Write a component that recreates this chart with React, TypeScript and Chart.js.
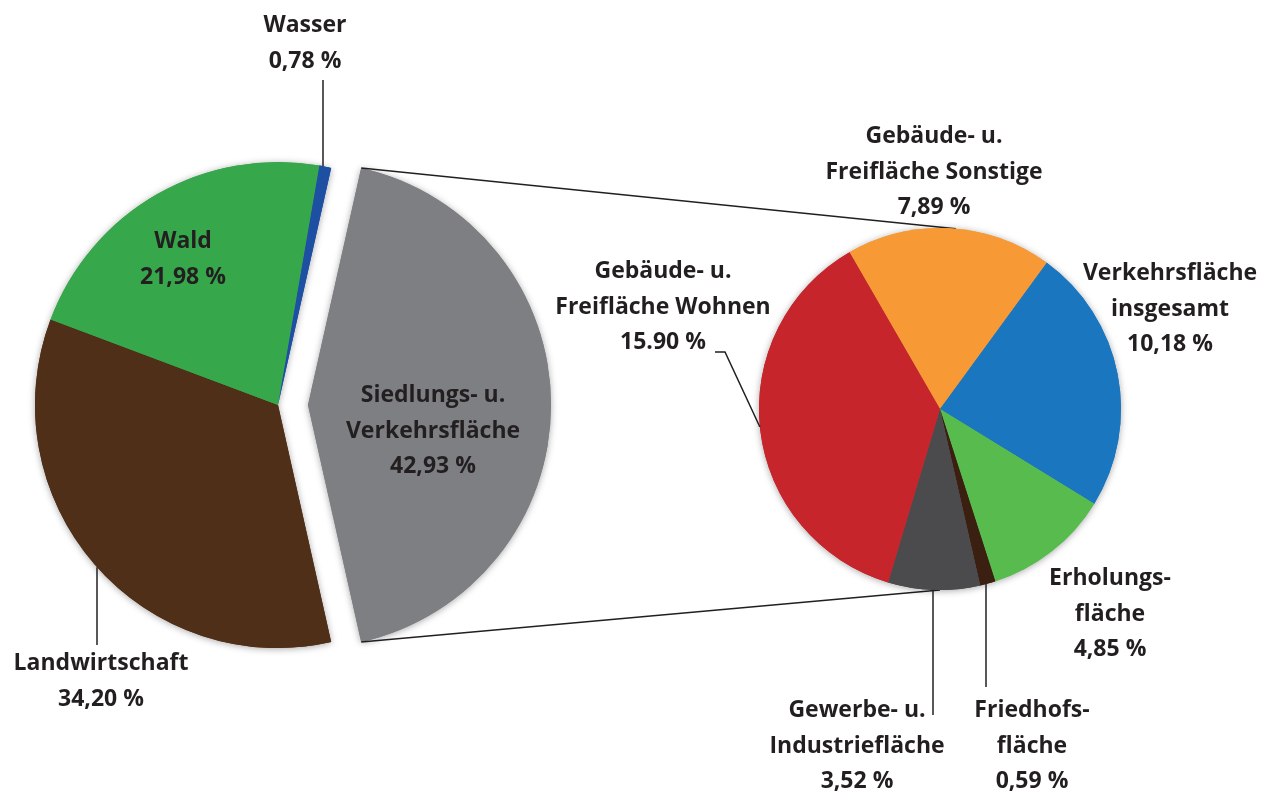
import React, { useEffect, useRef } from "react";
import { Chart, registerables } from "chart.js";
Chart.register(...registerables);

// ---- data ----
const mainCategories = ["Siedlungs- u. Verkehrsfläche", "Landwirtschaft", "Wald", "Wasser"];
const mainValues = [42.93, 34.2, 21.98, 0.78];
const mainValueTexts = ["42,93 %", "34,20 %", "21,98 %", "0,78 %"];
const mainLabelLines = [["Siedlungs- u.", "Verkehrsfläche"], ["Landwirtschaft"], ["Wald"], ["Wasser"]];
const mainColors = ["#7e7f83", "#4f2f18", "#36a84b", "#1d4fa2"];

const subCategories = [
  "Gebäude- u. Freifläche Sonstige",
  "Verkehrsfläche insgesamt",
  "Erholungsfläche",
  "Friedhofsfläche",
  "Gewerbe- u. Industriefläche",
  "Gebäude- u. Freifläche Wohnen",
];
const subValues = [7.89, 10.18, 4.85, 0.59, 3.52, 15.9];
const subValueTexts = ["7,89 %", "10,18 %", "4,85 %", "0,59 %", "3,52 %", "15.90 %"];
const subLabelLines = [
  ["Gebäude- u.", "Freifläche Sonstige"],
  ["Verkehrsfläche", "insgesamt"],
  ["Erholungs-", "fläche"],
  ["Friedhofs-", "fläche"],
  ["Gewerbe- u.", "Industriefläche"],
  ["Gebäude- u.", "Freifläche Wohnen"],
];
const subColors = ["#f79a36", "#1b76c0", "#57bb4e", "#3b2012", "#4b4b4d", "#c5252b"];

// ---- layout / style ----
const W = 1280;
const H = 797;
const FONT = 'bold 23px "Open Sans", Roboto, sans-serif';
const TEXT = "#231f20";
const LH = 35.5;
const EXPLODE = 30;
const mainLabelPos = [[433, 402], [101, 670], [183, 248], [305, 32]];
const subLabelPos = [[934, 143], [1170, 280], [1110, 585], [1032, 717], [857, 717], [663, 278]];

function drawText(ctx: CanvasRenderingContext2D, lines: string[], x: number, y: number) {
  ctx.save();
  ctx.font = FONT;
  ctx.fillStyle = TEXT;
  ctx.textAlign = "center";
  ctx.textBaseline = "alphabetic";
  lines.forEach((l, i) => ctx.fillText(l, x, y + i * LH));
  ctx.restore();
}

function line(ctx: CanvasRenderingContext2D, pts: number[][]) {
  ctx.save();
  ctx.strokeStyle = TEXT;
  ctx.lineWidth = 1.5;
  ctx.beginPath();
  pts.forEach((p, i) => (i === 0 ? ctx.moveTo(p[0], p[1]) : ctx.lineTo(p[0], p[1])));
  ctx.stroke();
  ctx.restore();
}

function explodeFor(arc: any, i: number, explodeIndex: number) {
  if (i !== explodeIndex) return [0, 0];
  const mid = (arc.startAngle + arc.endAngle) / 2;
  return [Math.cos(mid) * EXPLODE, Math.sin(mid) * EXPLODE];
}

function arcDrawPlugin(explodeIndex: number) {
  return {
    id: "arcDraw",
    beforeDatasetsDraw(chart: any) {
      const ctx = chart.ctx;
      const meta = chart.getDatasetMeta(0);
      // shadow pass
      ctx.save();
      ctx.shadowColor = "rgba(0,0,0,0.35)";
      ctx.shadowBlur = 7;
      ctx.shadowOffsetY = 1;
      meta.data.forEach((arc: any, i: number) => {
        const [dx, dy] = explodeFor(arc, i, explodeIndex);
        ctx.save();
        ctx.translate(dx, dy);
        arc.draw(ctx);
        ctx.restore();
      });
      ctx.restore();
      // main pass
      meta.data.forEach((arc: any, i: number) => {
        const [dx, dy] = explodeFor(arc, i, explodeIndex);
        ctx.save();
        ctx.translate(dx, dy);
        arc.draw(ctx);
        ctx.restore();
      });
      return false;
    },
  };
}

function yOnCircle(arc: any, x: number, sign: number) {
  const r = arc.outerRadius;
  return arc.y + sign * Math.sqrt(Math.max(r * r - (x - arc.x) ** 2, 0));
}
function xOnCircle(arc: any, y: number, sign: number) {
  const r = arc.outerRadius;
  return arc.x + sign * Math.sqrt(Math.max(r * r - (y - arc.y) ** 2, 0));
}

export default function App() {
  const leftRef = useRef<HTMLCanvasElement>(null);
  const rightRef = useRef<HTMLCanvasElement>(null);

  useEffect(() => {
    const subLabelsPlugin = {
      id: "subLabels",
      afterDraw(chart: any) {
        const ctx = chart.ctx;
        const arcs = chart.getDatasetMeta(0).data;
        const a = arcs[0];
        subLabelLines.forEach((lines, i) => {
          drawText(ctx, [...lines, subValueTexts[i]], subLabelPos[i][0], subLabelPos[i][1]);
        });
        // Friedhof leader
        line(ctx, [[986, 687], [986, yOnCircle(a, 986, 1)]]);
        // Gewerbe leader
        line(ctx, [[933, 715], [933, yOnCircle(a, 933, 1)]]);
        // Wohnen leader
        line(ctx, [[715, 352], [725, 352], [xOnCircle(a, 427, -1), 427]]);
      },
    };

    const right = new Chart(rightRef.current!, {
      type: "pie",
      data: {
        labels: subCategories,
        datasets: [{ data: subValues, backgroundColor: subColors, borderWidth: 0 }],
      },
      options: {
        responsive: false,
        animation: false,
        events: [],
        rotation: -30,
        radius: 181,
        layout: { padding: { left: 600, right: 0, top: 21, bottom: 0 } },
        plugins: { legend: { display: false }, tooltip: { enabled: false } },
      },
      plugins: [arcDrawPlugin(-1), subLabelsPlugin],
    });

    const total = mainValues.reduce((s, v) => s + v, 0);
    const rot = 90 - (mainValues[0] / total) * 180;

    const mainLabelsPlugin = {
      id: "mainLabels",
      afterDraw(chart: any) {
        const ctx = chart.ctx;
        const arcs = chart.getDatasetMeta(0).data;
        mainLabelLines.forEach((lines, i) => {
          drawText(ctx, [...lines, mainValueTexts[i]], mainLabelPos[i][0], mainLabelPos[i][1]);
        });
        const a = arcs[1];
        // Landwirtschaft leader
        line(ctx, [[97, 645], [97, yOnCircle(a, 97, 1)]]);
        // Wasser leader
        line(ctx, [[323, 80], [323, yOnCircle(a, 323, -1)]]);
        // connectors from exploded slice to second pie
        const s = arcs[0];
        const [dx, dy] = explodeFor(s, 0, 0);
        const cx = s.x + dx;
        const cy = s.y + dy;
        const R = s.outerRadius;
        const p1 = [cx + Math.cos(s.startAngle) * R, cy + Math.sin(s.startAngle) * R];
        const p2 = [cx + Math.cos(s.endAngle) * R, cy + Math.sin(s.endAngle) * R];
        const ra = right.getDatasetMeta(0).data[0] as any;
        const rr = ra.outerRadius;
        const tA = (-90 + 5) * (Math.PI / 180);
        const bA = 90 * (Math.PI / 180);
        line(ctx, [p1, [ra.x + Math.cos(tA) * rr, ra.y + Math.sin(tA) * rr]]);
        line(ctx, [p2, [ra.x + Math.cos(bA) * rr, ra.y + Math.sin(bA) * rr]]);
      },
    };

    const left = new Chart(leftRef.current!, {
      type: "pie",
      data: {
        labels: mainCategories,
        datasets: [{ data: mainValues, backgroundColor: mainColors, borderWidth: 0 }],
      },
      options: {
        responsive: false,
        animation: false,
        events: [],
        rotation: rot,
        radius: 243,
        layout: { padding: { left: 0, right: 724, top: 13, bottom: 0 } },
        plugins: { legend: { display: false }, tooltip: { enabled: false } },
      },
      plugins: [arcDrawPlugin(0), mainLabelsPlugin],
    });

    return () => {
      left.destroy();
      right.destroy();
    };
  }, []);

  const cs: React.CSSProperties = { position: "absolute", left: 0, top: 0, width: W, height: H };
  return (
    <div style={{ position: "absolute", left: 0, top: 0, width: W, height: H, background: "#fff", overflow: "hidden" }}>
      <canvas ref={leftRef} width={W} height={H} style={cs} />
      <canvas ref={rightRef} width={W} height={H} style={cs} />
    </div>
  );
}
